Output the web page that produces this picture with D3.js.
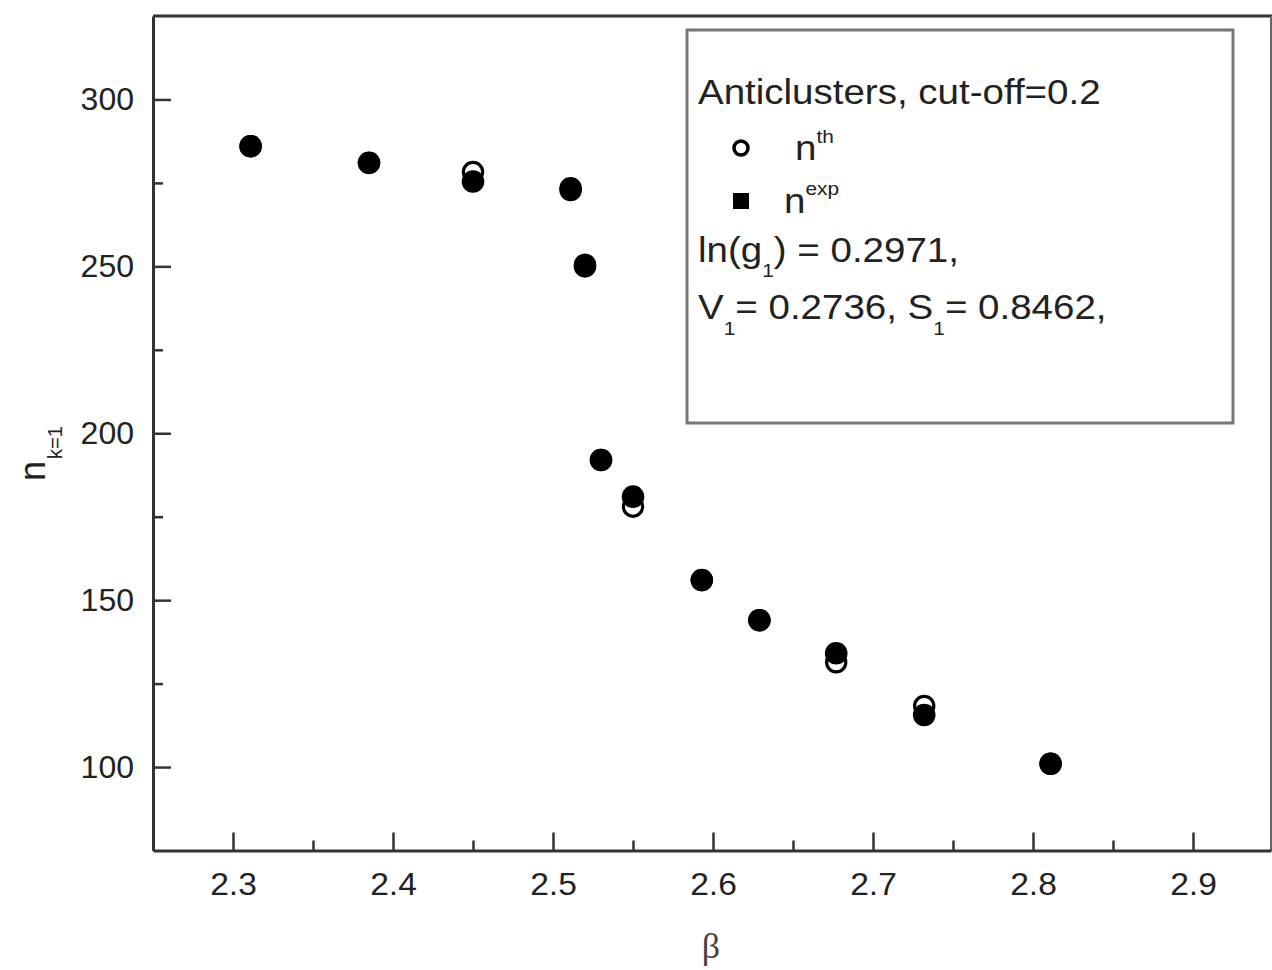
<!DOCTYPE html>
<html><head><meta charset="utf-8">
<script src="https://cdn.jsdelivr.net/npm/d3@7"></script>
<style>
html,body{margin:0;padding:0;background:#fff;}
svg text{font-family:"Liberation Sans",Arial,sans-serif;}
</style></head>
<body>
<svg id="c" width="1272" height="970"></svg>
<script>
// ---- data ----
const beta = [2.311, 2.385, 2.45, 2.511, 2.52, 2.53, 2.55, 2.593, 2.629, 2.677, 2.732, 2.811];
const nTh  = [286, 281, 278.3, 273.4, 250.5, 192, 178, 156, 144, 131.4, 118.3, 101];
const nExp = [286, 281, 275.4, 272.9, 250, 192, 181, 156, 144, 134.1, 115.6, 101];
const xTicks = [2.3, 2.4, 2.5, 2.6, 2.7, 2.8, 2.9];
const xMinor = [2.35, 2.45, 2.55, 2.65, 2.75, 2.85];
const yTicks = [100, 150, 200, 250, 300];
const yMinor = [125, 175, 225, 275];
const legendTitle = "Anticlusters, cut-off=0.2";

const svg = d3.select("#c");
const W = 1272, H = 970;
const L = 153, R = 1271, T = 16, B = 850.5;
const x = d3.scaleLinear().domain([2.25, 2.94875]).range([L, R]);
const y = d3.scaleLinear().domain([75, 325]).range([B, T]);
const axisCol = "#333";
const textCol = "#222";

// frame (top & right)
svg.append("line").attr("x1", L).attr("x2", W).attr("y1", T).attr("y2", T)
  .attr("stroke", axisCol).attr("stroke-width", 3);
svg.append("line").attr("x1", R).attr("x2", R).attr("y1", T).attr("y2", B)
  .attr("stroke", "#666").attr("stroke-width", 2);

// x axis
const gx = svg.append("g").attr("transform", `translate(0,${B})`)
  .call(d3.axisBottom(x).tickValues(xTicks).tickSize(-18).tickSizeOuter(0).tickPadding(22).tickFormat(d3.format(".1f")));
svg.append("g").attr("transform", `translate(0,${B})`)
  .call(d3.axisBottom(x).tickValues(xMinor).tickSize(-10).tickSizeOuter(0).tickFormat(""))
  .call(g => g.select(".domain").remove());
// y axis
const gy = svg.append("g").attr("transform", `translate(${L},0)`)
  .call(d3.axisLeft(y).tickValues(yTicks).tickSize(-18).tickSizeOuter(0).tickPadding(19));
svg.append("g").attr("transform", `translate(${L},0)`)
  .call(d3.axisLeft(y).tickValues(yMinor).tickSize(-10).tickSizeOuter(0).tickFormat(""))
  .call(g => g.select(".domain").remove());

svg.selectAll(".domain").attr("stroke", axisCol).attr("stroke-width", 3);
svg.selectAll(".tick line").attr("stroke", axisCol).attr("stroke-width", 2.5);
svg.selectAll(".tick text").attr("fill", textCol).attr("font-size", 32)
  .attr("font-family", "Liberation Sans, Arial, sans-serif");
gx.selectAll(".tick text").attr("transform", "scale(1.05,1)");

// axis titles
svg.append("text").attr("x", 711).attr("y", 958).attr("text-anchor", "middle")
  .style("font-family", "Liberation Serif, serif")
  .attr("font-size", 36).attr("fill", "#444").text("β");
const yt = svg.append("text").attr("transform", "translate(45,481) rotate(-90)")
  .attr("font-size", 36).attr("fill", textCol);
yt.append("tspan").text("n");
yt.append("tspan").attr("dy", 17).attr("dx", 2).attr("font-size", 20).text("k=1");

// data markers
const pts = beta.map((b, i) => ({b, th: nTh[i], ex: nExp[i]}));
svg.append("g").selectAll("circle").data(pts).join("circle")
  .attr("cx", d => x(d.b)).attr("cy", d => y(d.th)).attr("r", 9.6)
  .attr("fill", "#fff").attr("stroke", "#000").attr("stroke-width", 3.2);
svg.append("g").selectAll("circle").data(pts).join("circle")
  .attr("cx", d => x(d.b)).attr("cy", d => y(d.ex)).attr("r", 11.3)
  .attr("fill", "#000");

// legend
const lg = svg.append("g");
lg.append("rect").attr("x", 687).attr("y", 30).attr("width", 546).attr("height", 393)
  .attr("fill", "#fff").attr("stroke", "#777").attr("stroke-width", 3);
function stext(px, py, size) {
  return lg.append("text").attr("transform", `translate(${px},${py}) scale(1.1,1)`)
    .attr("font-size", size).attr("fill", textCol);
}
stext(698, 104, 35).text(legendTitle);
lg.append("circle").attr("cx", 741).attr("cy", 148).attr("r", 7).attr("fill", "none")
  .attr("stroke", "#000").attr("stroke-width", 3.5);
const t1 = stext(795, 160, 35);
t1.append("tspan").text("n");
t1.append("tspan").attr("dy", -17).attr("font-size", 19).text("th");
lg.append("rect").attr("x", 733).attr("y", 193).attr("width", 16).attr("height", 16).attr("fill", "#000");
const t2 = stext(784, 213, 35);
t2.append("tspan").text("n");
t2.append("tspan").attr("dy", -18).attr("font-size", 19).text("exp");
const t3 = stext(698, 262, 35);
t3.append("tspan").text("ln(g");
t3.append("tspan").attr("dy", 15).attr("font-size", 19).text("1");
t3.append("tspan").attr("dy", -15).text(") = 0.2971,");
const t4 = stext(698, 319, 35);
t4.append("tspan").text("V");
t4.append("tspan").attr("dy", 16).attr("font-size", 19).text("1");
t4.append("tspan").attr("dy", -16).text("= 0.2736, S");
t4.append("tspan").attr("dy", 16).attr("font-size", 19).text("1");
t4.append("tspan").attr("dy", -16).text("= 0.8462,");
</script>
</body></html>
